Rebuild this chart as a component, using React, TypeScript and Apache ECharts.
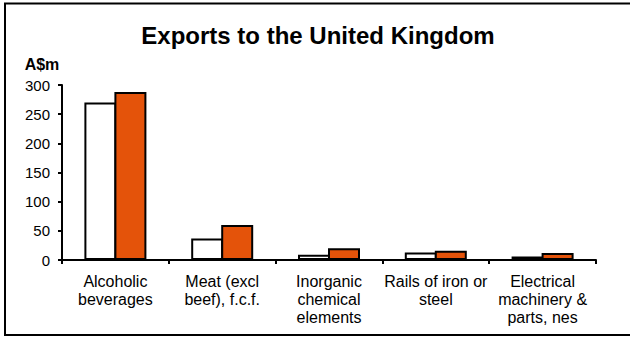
import React, { useEffect, useRef } from "react";
import * as echarts from "echarts";

const categories = [
  "Alcoholic\nbeverages",
  "Meat (excl\nbeef), f.c.f.",
  "Inorganic\nchemical\nelements",
  "Rails of iron or\nsteel",
  "Electrical\nmachinery &\nparts, nes",
];
const seriesA = [270, 37, 9, 13, 6];
const seriesB = [288, 60, 20, 16, 12];
const yTicks = { min: 0, max: 300, interval: 50 };
const titleText = "Exports to the United Kingdom";
const unitText = "A$m";

export default function App() {
  const ref = useRef<HTMLDivElement>(null);
  useEffect(() => {
    const chart = echarts.init(ref.current!, null, { renderer: "svg" });
    const font = "Arial, 'Liberation Sans', sans-serif";
    chart.setOption({
      animation: false,
      backgroundColor: "#ffffff",
      grid: { left: 62, right: 34, top: 85, bottom: 77, containLabel: false },
      graphic: [
        {
          type: "polyline",
          shape: { points: [[660, 3.5], [5, 3.5], [5, 335], [660, 335]] },
          style: { fill: "none", stroke: "#000", lineWidth: 2 },
          silent: true,
        },
        {
          type: "text",
          x: 318,
          y: 47,
          style: {
            text: titleText,
            font: `bold 24px ${font}`,
            fill: "#000",
            align: "center",
            verticalAlign: "bottom",
          },
        },
        {
          type: "text",
          x: 42,
          y: 72,
          style: {
            text: unitText,
            font: `bold 16px ${font}`,
            fill: "#000",
            align: "center",
            verticalAlign: "bottom",
          },
        },
      ],
      xAxis: {
        type: "category",
        data: categories,
        axisLine: { lineStyle: { color: "#000", width: 2 } },
        axisTick: { show: true, length: 4, inside: false, lineStyle: { color: "#000", width: 2 } },
        axisLabel: {
          color: "#000",
          fontSize: 16,
          fontFamily: font,
          lineHeight: 18,
          margin: 12,
          interval: 0,
        },
        splitLine: { show: false },
      },
      yAxis: {
        type: "value",
        min: yTicks.min,
        max: yTicks.max,
        interval: yTicks.interval,
        axisLine: { show: true, lineStyle: { color: "#000", width: 2 } },
        axisTick: { show: true, length: 4, lineStyle: { color: "#000", width: 2 } },
        axisLabel: { color: "#000", fontSize: 15, fontFamily: font, margin: 12 },
        splitLine: { show: false },
      },
      series: [
        {
          type: "bar",
          data: seriesA,
          barWidth: 32,
          barGap: "-6.25%",
          itemStyle: { color: "#ffffff", borderColor: "#000", borderWidth: 2 },
        },
        {
          type: "bar",
          data: seriesB,
          barWidth: 32,
          barGap: "-6.25%",
          itemStyle: { color: "#E4530A", borderColor: "#000", borderWidth: 2 },
        },
      ],
    });
    return () => chart.dispose();
  }, []);
  return (
    <div
      ref={ref}
      style={{ position: "fixed", left: 0, top: 0, width: 630, height: 337 }}
    />
  );
}
